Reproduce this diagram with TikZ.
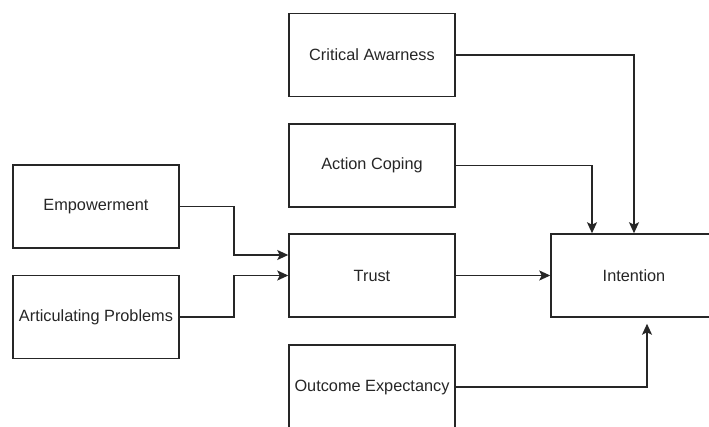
\documentclass[tikz,border=0pt]{standalone}
\usepackage{fontspec}
\setmainfont{Liberation Sans}
\usetikzlibrary{arrows.meta}
\begin{document}
\begin{tikzpicture}[x=1pt,y=-1pt,
  box/.style={draw=black!85, line width=1.5pt, fill=white, minimum width=166pt,
    minimum height=83pt, inner sep=0pt, font=\fontsize{16.3}{19}\selectfont, text=black!85},
  arr/.style={draw=black!85, line width=1.5pt,
    -{Stealth[length=11pt,width=10pt,inset=2.5pt]}}]
\useasboundingbox (0,0) rectangle (709,427);
\clip (0,0) rectangle (709,427);
\fill[white] (0,0) rectangle (709,427);

% left column
\node[box] (emp) at (96,206.5) {Empowerment};
\node[box] (art) at (96,317) {Articulating Problems};
% middle column
\node[box] (crit) at (372,55) {Critical Awarness};
\node[box] (act) at (372,165.5) {Action Coping};
\node[box] (trust) at (372,275.5) {Trust};
\node[box, minimum height=84pt] (out) at (372,387) {Outcome Expectancy};
% right
\node[box] (int) at (634,275.5) {Intention};

% connectors into Trust
\draw[arr] (emp.east) -- ++(54,0) |- ([yshift=20.5pt]trust.west);
\draw[arr] (art.east) -- ++(54,0) |- (trust.west);
% connectors into Intention
\draw[arr] (trust.east) -- (int.west);
\draw[arr] (crit.east) -| (int.north);
\draw[arr] (act.east) -| ([xshift=-42pt]int.north);
\coordinate (outin) at ([xshift=13pt,yshift=-6pt]int.south);
\draw[arr] (out.east) -| (outin);
\end{tikzpicture}
\end{document}
